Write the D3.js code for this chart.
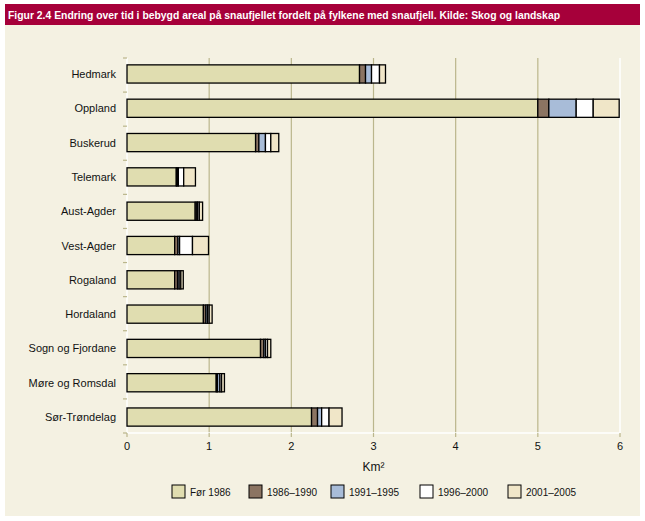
<!DOCTYPE html>
<html><head><meta charset="utf-8">
<script src="https://cdn.jsdelivr.net/npm/d3@7"></script>
<style>body{margin:0;background:#fff}svg{display:block}</style>
</head><body>
<script>
const title = "Figur 2.4 Endring over tid i bebygd areal på snaufjellet fordelt på fylkene med snaufjell. Kilde: Skog og landskap";
const categories = ["Hedmark","Oppland","Buskerud","Telemark","Aust-Agder","Vest-Agder","Rogaland","Hordaland","Sogn og Fjordane","Møre og Romsdal","Sør-Trøndelag"];
const seriesNames = ["Før 1986","1986–1990","1991–1995","1996–2000","2001–2005"];
const seriesColors = ["#e0ddb0","#8b7462","#a8bcd8","#ffffff","#f0e6c8"];
const for1986   = [2.83, 5.00, 1.565, 0.60, 0.83, 0.58, 0.58, 0.93, 1.625, 1.086, 2.246];
const p1986_1990 = [0.073, 0.134, 0.04, 0.01, 0.02, 0.04, 0.035, 0.03, 0.04, 0.015, 0.073];
const p1991_1995 = [0.073, 0.333, 0.08, 0.015, 0.01, 0.02, 0.02, 0.02, 0.02, 0.03, 0.05];
const p1996_2000 = [0.097, 0.207, 0.065, 0.065, 0.02, 0.157, 0.02, 0.02, 0.025, 0.02, 0.09];
const p2001_2005 = [0.073, 0.316, 0.097, 0.143, 0.04, 0.195, 0.03, 0.036, 0.04, 0.035, 0.158];
const xTicks = [0,1,2,3,4,5,6];

const W=645,H=521;
const svg=d3.select("body").append("svg").attr("width",W).attr("height",H);
const font="'Liberation Sans', Arial, sans-serif";
// panel
svg.append("rect").attr("x",5).attr("y",4).attr("width",635).attr("height",512).attr("fill","#f4f1e2");
svg.append("rect").attr("x",5).attr("y",4).attr("width",635).attr("height",21).attr("fill","#a6003a");
svg.append("text").attr("x",8).attr("y",18.5).text(title)
  .attr("fill","#fff").attr("font-family","'Liberation Sans Narrow','Arial Narrow',sans-serif")
  .attr("font-weight","bold").attr("font-size","11.5px")
  .attr("textLength",552).attr("lengthAdjust","spacingAndGlyphs");

const L=127,R=620,T=58,B=433;
const x=d3.scaleLinear().domain([0,6]).range([L,R]);
const y=d3.scaleBand().domain(categories).range([T,B]).paddingInner(0.47).paddingOuter(0.2);

// gridlines
svg.append("g").selectAll("line").data(xTicks.slice(1,-1)).join("line")
  .attr("x1",d=>x(d)).attr("x2",d=>x(d)).attr("y1",T).attr("y2",B)
  .attr("stroke","#bab68c").attr("stroke-width",1.2);
// axis lines (white)
svg.append("line").attr("x1",L).attr("x2",L).attr("y1",T).attr("y2",B).attr("stroke","#fff").attr("stroke-width",1.5);
svg.append("line").attr("x1",R).attr("x2",R).attr("y1",T).attr("y2",B).attr("stroke","#fff").attr("stroke-width",1.5);
svg.append("line").attr("x1",L).attr("x2",R).attr("y1",B).attr("y2",B).attr("stroke","#fff").attr("stroke-width",1.5);

// left ticks at band boundaries
const step=(B-T)/categories.length;
const bounds=d3.range(categories.length+1).map(i=>T+i*step);
svg.append("g").selectAll("line").data(bounds).join("line")
  .attr("x1",L-4).attr("x2",L).attr("y1",d=>d).attr("y2",d=>d).attr("stroke","#bab68c").attr("stroke-width",1.2);
// bottom ticks
svg.append("g").selectAll("line").data(xTicks).join("line")
  .attr("x1",d=>x(d)).attr("x2",d=>x(d)).attr("y1",B).attr("y2",B+4).attr("stroke","#bab68c").attr("stroke-width",1.2);
svg.append("g").selectAll("text").data(xTicks).join("text")
  .attr("x",d=>x(d)).attr("y",B+17).attr("text-anchor","middle").text(d=>d)
  .attr("font-family",font).attr("font-size","11px").attr("fill","#111");
svg.append("text").attr("x",x(3)).attr("y",471).attr("text-anchor","middle").text("Km²")
  .attr("font-family",font).attr("font-size","12px").attr("fill","#111");

// category labels
svg.append("g").selectAll("text").data(categories).join("text")
  .attr("x",116).attr("y",d=>y(d)+y.bandwidth()/2+4).attr("text-anchor","end").text(d=>d)
  .attr("font-family",font).attr("font-size","11px").attr("fill","#111");

// stacked bars
const rows=categories.map((c,i)=>({cat:c,s0:for1986[i],s1:p1986_1990[i],s2:p1991_1995[i],s3:p1996_2000[i],s4:p2001_2005[i]}));
const stack=d3.stack().keys(["s0","s1","s2","s3","s4"])(rows);
stack.forEach((layer,k)=>{
  svg.append("g").selectAll("rect").data(layer).join("rect")
    .attr("x",d=>x(d[0])).attr("width",d=>x(d[1])-x(d[0]))
    .attr("y",d=>y(d.data.cat)).attr("height",y.bandwidth())
    .attr("fill",seriesColors[k]).attr("stroke","#000").attr("stroke-width",1.3);
});

// legend
const legX=[172,249,331,420,508];
const lg=svg.append("g").selectAll("g").data(seriesNames).join("g")
  .attr("transform",(d,i)=>`translate(${legX[i]},485)`);
lg.append("rect").attr("width",13).attr("height",13).attr("fill",(d,i)=>seriesColors[i]).attr("stroke","#000").attr("stroke-width",1);
lg.append("text").attr("x",18).attr("y",10.5).text(d=>d).attr("font-family",font).attr("font-size","10px").attr("fill","#111");
</script>
</body></html>
